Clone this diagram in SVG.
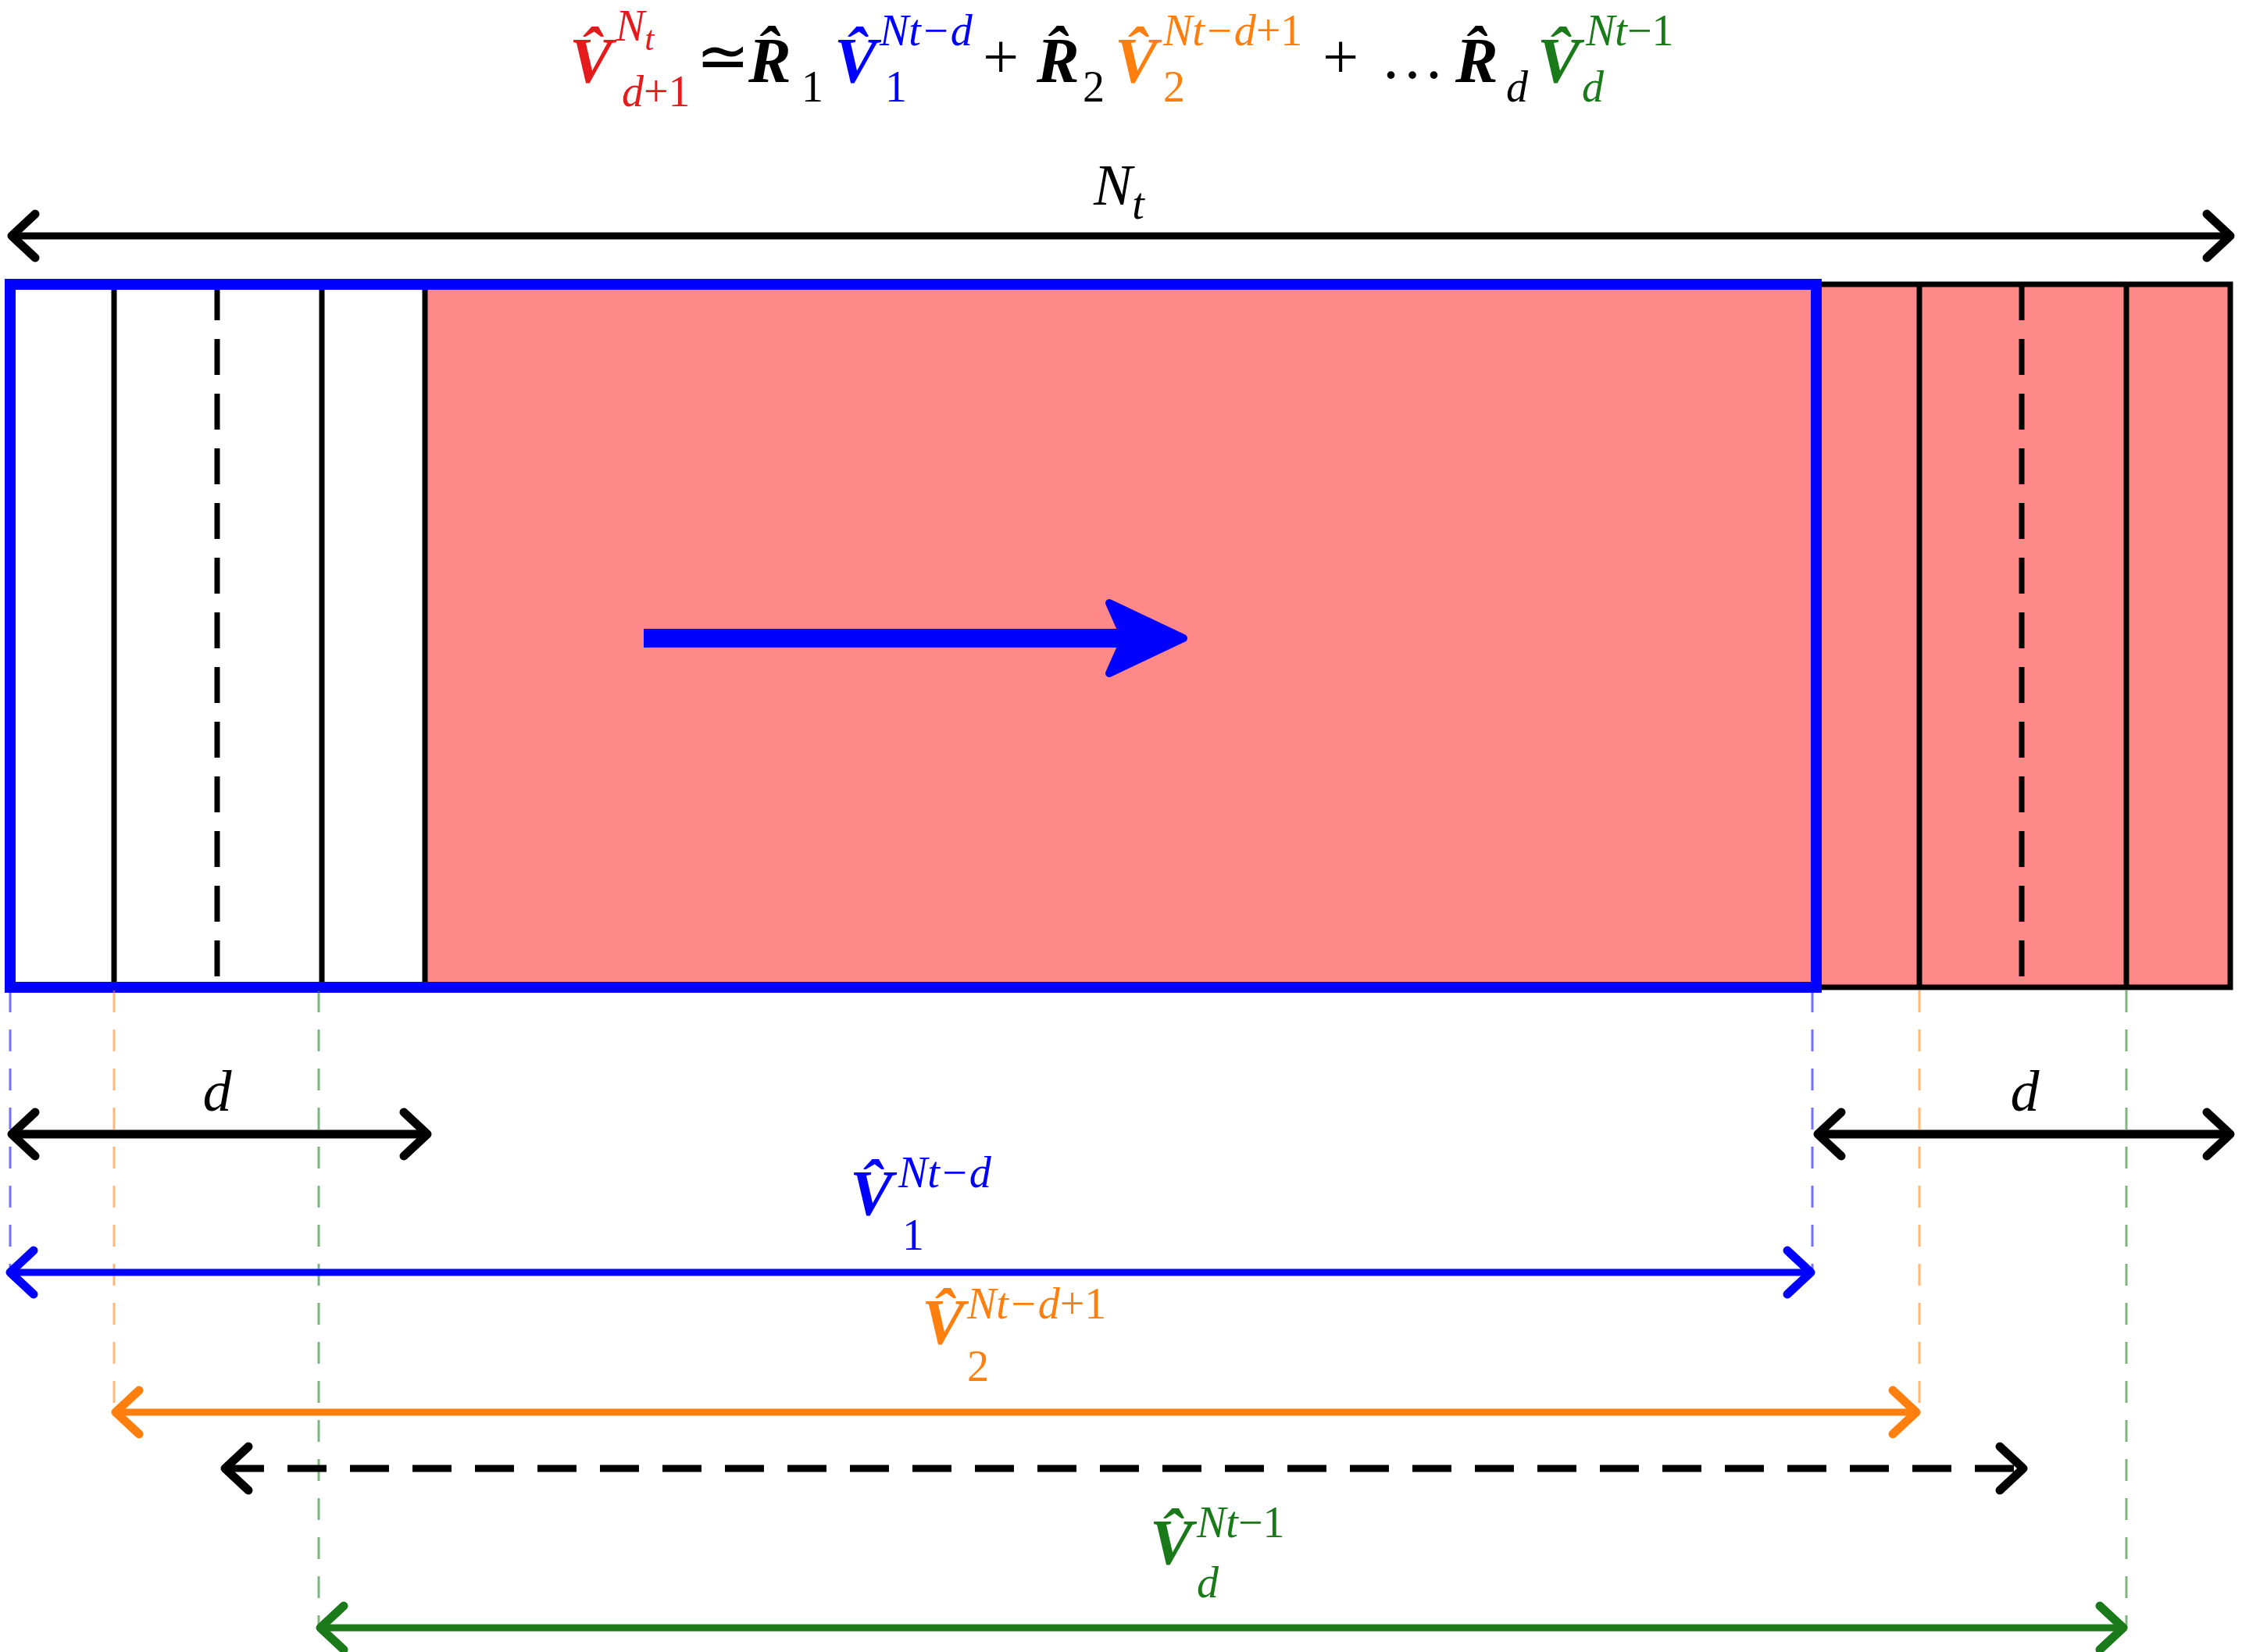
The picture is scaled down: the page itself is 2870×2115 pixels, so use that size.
<svg xmlns="http://www.w3.org/2000/svg" width="2870" height="2115" viewBox="0 0 2870 2115">
<style>
text{font-family:"Liberation Serif","Times New Roman",serif}
.m{font-style:italic}
.b{font-weight:bold}
.n{font-style:normal}
.big{font-size:82px}.sup{font-size:56px}.lab{font-size:74px}
.guide{stroke-width:3;stroke-dasharray:28 22;opacity:.55}
</style>
<defs>
<marker id="ak" markerUnits="userSpaceOnUse" markerWidth="80" markerHeight="80" viewBox="-40 -40 80 80" orient="auto-start-reverse" overflow="visible"><path d="M-30,-28 L0,0 L-30,28" fill="none" stroke="#000" stroke-width="11" stroke-linecap="round" stroke-linejoin="round"/></marker>
<marker id="ab" markerUnits="userSpaceOnUse" markerWidth="80" markerHeight="80" viewBox="-40 -40 80 80" orient="auto-start-reverse" overflow="visible"><path d="M-30,-28 L0,0 L-30,28" fill="none" stroke="#0000ff" stroke-width="11" stroke-linecap="round" stroke-linejoin="round"/></marker>
<marker id="ao" markerUnits="userSpaceOnUse" markerWidth="80" markerHeight="80" viewBox="-40 -40 80 80" orient="auto-start-reverse" overflow="visible"><path d="M-30,-28 L0,0 L-30,28" fill="none" stroke="#ff7f0e" stroke-width="11" stroke-linecap="round" stroke-linejoin="round"/></marker>
<marker id="ag" markerUnits="userSpaceOnUse" markerWidth="80" markerHeight="80" viewBox="-40 -40 80 80" orient="auto-start-reverse" overflow="visible"><path d="M-30,-28 L0,0 L-30,28" fill="none" stroke="#1a7a1a" stroke-width="11" stroke-linecap="round" stroke-linejoin="round"/></marker>
</defs>
<rect width="2870" height="2115" fill="#fff"/>

<g id="equation">
<text class="m b big" x="729" y="105" fill="#e41a1c">V̂</text>
<text class="m sup" x="788" y="52" fill="#e41a1c">N<tspan font-size="44" dy="12">t</tspan></text>
<text class="m sup" x="796" y="136" fill="#e41a1c">d<tspan class="n">+1</tspan></text>
<text class="n big" x="891" y="100">≃</text>
<text class="m b big" x="958" y="105">R̂</text>
<text class="n sup" x="1026" y="130">1</text>
<text class="m b big" x="1068" y="105" fill="#0000ff">V̂</text>
<text class="m sup" x="1126" y="58" fill="#0000ff">Nt−d</text>
<text class="n sup" x="1133" y="130" fill="#0000ff">1</text>
<text class="n big" x="1258" y="100">+</text>
<text class="m b big" x="1327" y="105">R̂</text>
<text class="n sup" x="1386" y="130">2</text>
<text class="m b big" x="1427" y="105" fill="#ff7f0e">V̂</text>
<text class="m sup" x="1489" y="58" fill="#ff7f0e">Nt−d<tspan class="n">+1</tspan></text>
<text class="n sup" x="1489" y="130" fill="#ff7f0e">2</text>
<text class="n big" x="1693" y="100">+</text>
<text class="n big" x="1767" y="100">…</text>
<text class="m b big" x="1863" y="105">R̂</text>
<text class="m sup" x="1928" y="130">d</text>
<text class="m b big" x="1968" y="105" fill="#1a7a1a">V̂</text>
<text class="m sup" x="2030" y="58" fill="#1a7a1a">Nt<tspan class="n">−1</tspan></text>
<text class="m sup" x="2025" y="130" fill="#1a7a1a">d</text>
</g>

<g id="Nt-label"><text class="m lab" x="1400" y="262">N<tspan font-size="56" dy="18">t</tspan></text></g>

<g id="block">
<rect x="544" y="364" width="2311" height="900" fill="#ff8888"/>
<rect x="13" y="364" width="2842" height="900" fill="none" stroke="#000" stroke-width="7"/>
<g stroke="#000" stroke-width="7">
<line x1="146" y1="364" x2="146" y2="1264"/>
<line x1="412" y1="364" x2="412" y2="1264"/>
<line x1="544" y1="364" x2="544" y2="1264"/>
<line x1="2457" y1="364" x2="2457" y2="1264"/>
<line x1="2722" y1="364" x2="2722" y2="1264"/>
<line x1="278" y1="364" x2="278" y2="1264" stroke-dasharray="46 24"/>
<line x1="2588" y1="364" x2="2588" y2="1264" stroke-dasharray="46 24"/>
</g>
<rect x="13" y="364" width="2312" height="900" fill="none" stroke="#0000ff" stroke-width="14"/>
</g>

<g id="flow-arrow">
<line x1="824" y1="817" x2="1470" y2="817" stroke="#0000ff" stroke-width="24"/>
<path d="M1420,772 L1515,817 L1420,862 L1440,817 Z" fill="#0000ff" stroke="#0000ff" stroke-width="10" stroke-linejoin="round"/>
</g>

<g id="guides">
<line class="guide" x1="13" y1="1268" x2="13" y2="1629" stroke="#0000ff"/>
<line class="guide" x1="2320" y1="1268" x2="2320" y2="1629" stroke="#0000ff"/>
<line class="guide" x1="146" y1="1268" x2="146" y2="1808" stroke="#ff7f0e"/>
<line class="guide" x1="2457" y1="1268" x2="2457" y2="1808" stroke="#ff7f0e"/>
<line class="guide" x1="408" y1="1268" x2="408" y2="2084" stroke="#1a7a1a"/>
<line class="guide" x1="2722" y1="1268" x2="2722" y2="2084" stroke="#1a7a1a"/>
</g>

<g id="connectors" fill="none" stroke-width="9">
<line x1="15" y1="302" x2="2855" y2="302" stroke="#000" marker-start="url(#ak)" marker-end="url(#ak)"/>
<line x1="15" y1="1452" x2="547" y2="1452" stroke="#000" stroke-width="11" marker-start="url(#ak)" marker-end="url(#ak)"/>
<line x1="2327" y1="1452" x2="2855" y2="1452" stroke="#000" stroke-width="11" marker-start="url(#ak)" marker-end="url(#ak)"/>
<line x1="13" y1="1629" x2="2318" y2="1629" stroke="#0000ff" marker-start="url(#ab)" marker-end="url(#ab)"/>
<line x1="148" y1="1808" x2="2453" y2="1808" stroke="#ff7f0e" marker-start="url(#ao)" marker-end="url(#ao)"/>
<line x1="288" y1="1880" x2="2590" y2="1880" stroke="#000" stroke-dasharray="50 30" marker-start="url(#ak)" marker-end="url(#ak)"/>
<line x1="410" y1="2084" x2="2718" y2="2084" stroke="#1a7a1a" marker-start="url(#ag)" marker-end="url(#ag)"/>
</g>

<g id="labels">
<text class="m lab" x="278" y="1422" text-anchor="middle">d</text>
<text class="m lab" x="2592" y="1422" text-anchor="middle">d</text>
<text class="m b big" x="1088" y="1555" fill="#0000ff">V̂</text>
<text class="m sup" x="1150" y="1520" fill="#0000ff">Nt−d</text>
<text class="n sup" x="1155" y="1600" fill="#0000ff">1</text>
<text class="m b big" x="1180" y="1720" fill="#ff7f0e">V̂</text>
<text class="m sup" x="1238" y="1688" fill="#ff7f0e">Nt−d<tspan class="n">+1</tspan></text>
<text class="n sup" x="1238" y="1768" fill="#ff7f0e">2</text>
<text class="m b big" x="1472" y="2002" fill="#1a7a1a">V̂</text>
<text class="m sup" x="1532" y="1968" fill="#1a7a1a">Nt<tspan class="n">−1</tspan></text>
<text class="m sup" x="1532" y="2045" fill="#1a7a1a">d</text>
</g>
</svg>
